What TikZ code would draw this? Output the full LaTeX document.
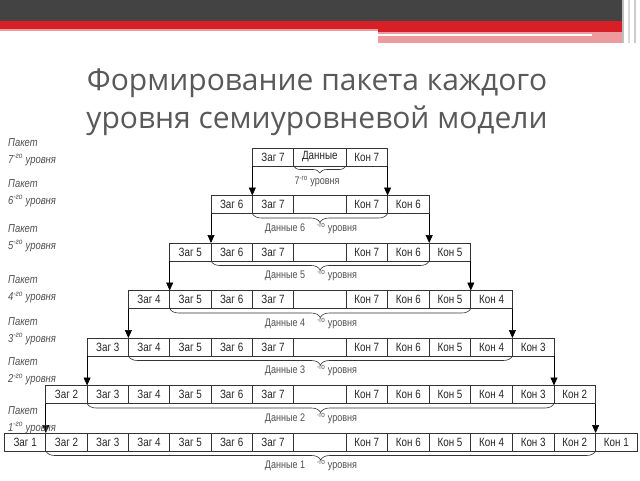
\documentclass[tikz,border=0pt]{standalone}
\usepackage{fontspec}
\setmainfont{Liberation Sans}
\newfontfamily\cellfont[FakeStretch=0.82]{Liberation Sans}
\newfontfamily\titlefont{Open Sans}
\usetikzlibrary{arrows.meta,decorations.pathreplacing}
\definecolor{hdrdark}{HTML}{434343}
\definecolor{hdrred}{HTML}{D71F28}
\definecolor{hdrpink}{HTML}{EE9BA0}
\definecolor{titlegray}{HTML}{595959}
\definecolor{lblgray}{HTML}{505050}
\definecolor{linegray}{HTML}{333333}
\tikzset{
  cellbox/.style={draw=linegray, line width=0.7pt, minimum height=18pt, inner sep=0pt, outer sep=0pt,
    font=\cellfont\fontsize{12}{13}\selectfont, text=black!85, anchor=north west},
  zagbox/.style={cellbox, minimum width=41.3pt},
  konbox/.style={cellbox, minimum width=41.6pt},
  gapbox/.style={cellbox, minimum width=52.4pt},
  arr/.style={draw=black, line width=0.7pt, -{Triangle[length=8pt,width=7pt]}},
  brc/.style={draw=linegray, line width=0.6pt, decorate, decoration={brace, mirror, amplitude=9pt}},
  datalbl/.style={font=\cellfont\fontsize{11}{12}\selectfont, text=lblgray, inner sep=0pt},
  pktlbl/.style={font=\cellfont\itshape\fontsize{11.5}{17}\selectfont, text=lblgray, align=left, anchor=west, inner sep=0pt},
  titlelbl/.style={font=\titlefont\fontsize{30}{36}\selectfont, text=titlegray, inner sep=0pt, anchor=base}
}
\begin{document}
\begin{tikzpicture}[x=1pt,y=-1pt]
\useasboundingbox (0,0) rectangle (640,480);
\fill[white] (0,0) rectangle (640,480);
% header
\fill[hdrdark] (0,0) rectangle (622,21);
\fill[hdrred] (0,21) rectangle (622,29);
\fill[hdrpink] (0,29) rectangle (378,31);
\fill[hdrred] (378,29) rectangle (622,32);
\fill[hdrpink] (378,32) rectangle (622,43);
\fill[white] (378,33.5) rectangle (592,35.5);
\fill[black!25] (622,0) rectangle (624,43);
\fill[black!15] (628,0) rectangle (630,43);
\fill[black!20] (634,0) rectangle (636,43);
% title
\node[titlelbl] (t1) at (317,90) {Формирование пакета каждого};
\node[titlelbl] (t2) at (317,128) {уровня семиуровневой модели};
% rows
\foreach \L in {1,...,7} {
  \pgfmathsetmacro\yT{433-(\L-1)*47.5}
  \foreach \k in {\L,...,7} {
    \node[zagbox] (z-\L-\k) at ({4.5+(\k-1)*41.3},\yT) {Заг \k};
    \node[konbox] (k-\L-\k) at ({346+(7-\k)*41.6},\yT) {Кон \k};
  }
  \node[gapbox] (g-\L) at (293.6,\yT) {\ifnum\L=7 Данные\fi};
}
% arrows, braces, labels
\foreach \L [evaluate=\L as \M using int(\L+1)] in {1,...,6} {
  \draw[arr] (z-\M-\M.south west) -- (z-\L-\M.north west);
  \draw[arr] (k-\M-\M.south east) -- (k-\L-\M.north east);
  \draw[brc] (z-\L-\M.south west) -- (k-\L-\M.south east);
  \pgfmathsetmacro\yD{466-(\L-1)*47.5}
  \node[datalbl] (d-\L) at (311,\yD) {Данные \L\hspace{1.1em}\textsuperscript{-го} уровня};
}
\draw[brc, decoration={brace, mirror, amplitude=7pt}] (g-7.south west) -- (g-7.south east);
\node[datalbl] (d-7) at (317,182) {7\textsuperscript{-го} уровня};
% left labels
\node[pktlbl] (p-7) at (8,152) {Пакет\\7\textsuperscript{-го} уровня};
\node[pktlbl] (p-6) at (8,193) {Пакет\\6\textsuperscript{-го} уровня};
\node[pktlbl] (p-5) at (8,238) {Пакет\\5\textsuperscript{-го} уровня};
\node[pktlbl] (p-4) at (8,289.5) {Пакет\\4\textsuperscript{-го} уровня};
\node[pktlbl] (p-3) at (8,331) {Пакет\\3\textsuperscript{-го} уровня};
\node[pktlbl] (p-2) at (8,371.5) {Пакет\\2\textsuperscript{-го} уровня};
\node[pktlbl] (p-1) at (8,420) {Пакет\\1\textsuperscript{-го} уровня};
\end{tikzpicture}
\end{document}
